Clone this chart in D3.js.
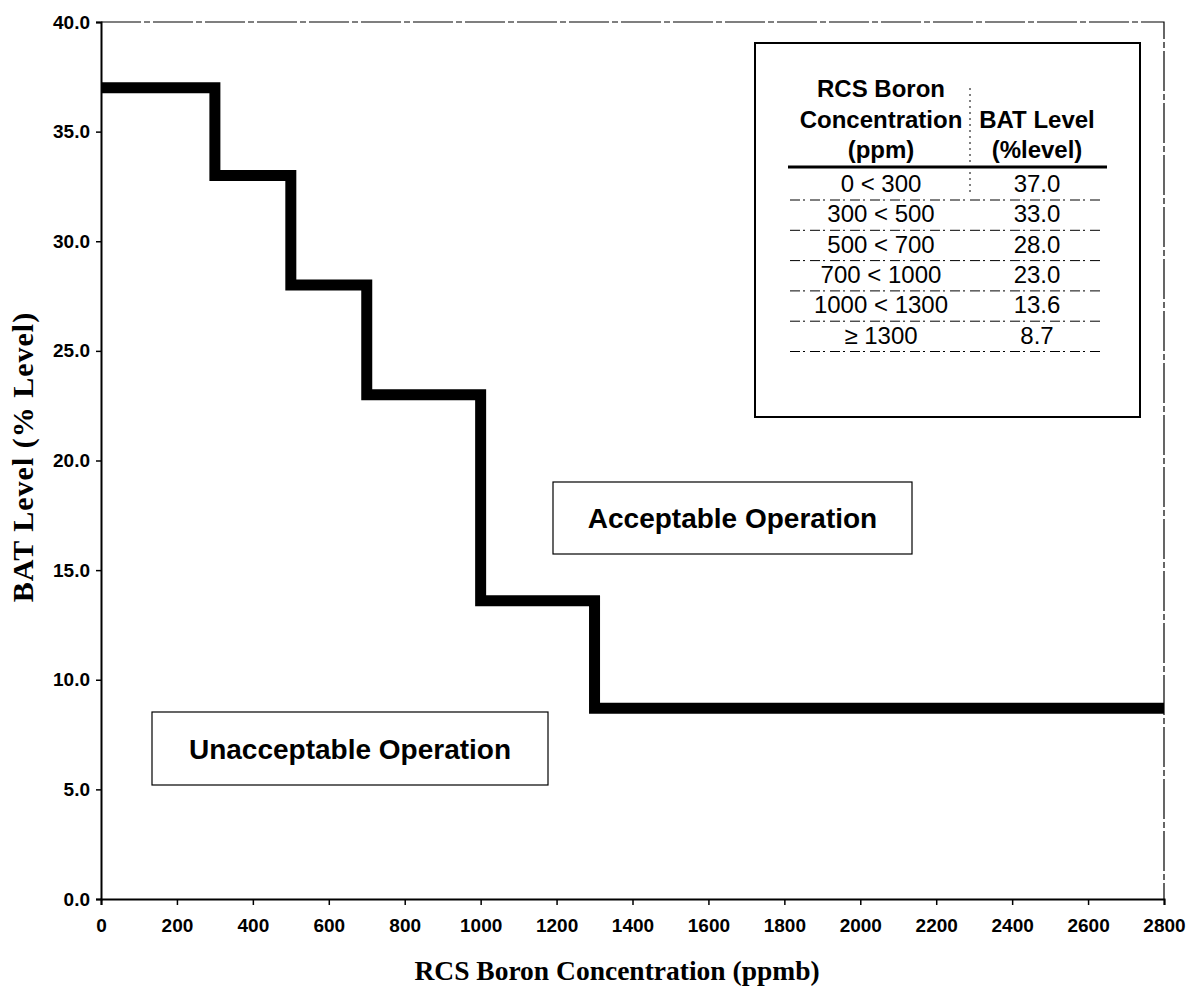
<!DOCTYPE html>
<meta charset="utf-8">
<style>
    body { margin: 0; background: #fff; }
    text { fill: #000; }
    .title { font-family: "Liberation Serif", "Times New Roman", serif; font-weight: bold; }
    .tbl { font-family: "Liberation Sans", Arial, sans-serif; font-size: 24px; }
    .lbl { font-family: "Liberation Sans", Arial, sans-serif; font-weight: bold; font-size: 28px; }
</style>
<svg width="1190" height="993"></svg>
<script src="https://d3js.org/d3.v7.min.js"></script>
<script>
    // step boundaries (ppm) and BAT levels
    var boron = [0, 300, 500, 700, 1000, 1300, 2800];
    var level = [37.0, 33.0, 28.0, 23.0, 13.6, 8.7];
    var rangeLabels = ["0 < 300", "300 < 500", "500 < 700", "700 < 1000", "1000 < 1300", "\u2265 1300"];
    var levelLabels = ["37.0", "33.0", "28.0", "23.0", "13.6", "8.7"];
    var xTicks = d3.range(0, 2801, 200);
    var yTicks = d3.range(0, 40.1, 5);

    var svg = d3.select("svg");
    var x0 = 101, x1 = 1164, y0 = 899, y1 = 22;

    var x = d3.scaleLinear().domain([0, 2800]).range([x0, x1]);
    var y = d3.scaleLinear().domain([0, 40]).range([y0, y1]);

    // plot frame (top/right)
    svg.append("path")
        .attr("d", "M" + x0 + "," + y1 + "H" + x1 + "V" + y0)
        .attr("fill", "none").attr("stroke", "#000").attr("stroke-width", 1.2)
        .attr("stroke-dasharray", "40,3,6,3");

    var xAxis = svg.append("g")
        .attr("transform", "translate(0," + y0 + ")")
        .call(d3.axisBottom(x).tickValues(xTicks).tickSize(6).tickPadding(14).tickFormat(d3.format("d")));
    var yAxis = svg.append("g")
        .attr("transform", "translate(" + x0 + ",0)")
        .call(d3.axisLeft(y).tickValues(yTicks).tickSize(5).tickPadding(6).tickFormat(d3.format(".1f")));
    [xAxis, yAxis].forEach(function(a) {
        a.attr("font-family", "Liberation Sans, Arial, sans-serif").attr("font-size", 19).attr("font-weight", "bold");
        a.select(".domain").attr("stroke-width", 2);
        a.selectAll(".tick line").attr("stroke-width", 1.5);
    });

    // step line
    var pts = level.map(function(v, i) { return [boron[i], v]; });
    pts.push([boron[boron.length - 1], level[level.length - 1]]);
    svg.append("path")
        .datum(pts)
        .attr("fill", "none")
        .attr("stroke", "#000")
        .attr("stroke-width", 11)
        .attr("d", d3.line()
            .x(function(d) { return x(d[0]); })
            .y(function(d) { return y(d[1]); })
            .curve(d3.curveStepAfter));

    // axis titles
    svg.append("text").attr("class", "title").attr("font-size", 27.5)
        .attr("x", 617).attr("y", 980).attr("text-anchor", "middle")
        .text("RCS Boron Concentration (ppmb)");
    svg.append("text").attr("class", "title").attr("font-size", 30).attr("letter-spacing", 1)
        .attr("transform", "translate(33,457) rotate(-90)").attr("text-anchor", "middle")
        .text("BAT Level (% Level)");

    // table box
    var tb = svg.append("g");
    tb.append("rect").attr("x", 755).attr("y", 43).attr("width", 385).attr("height", 374)
        .attr("fill", "#fff").attr("stroke", "#000").attr("stroke-width", 2);
    var c1 = 881, c2 = 1037;
    tb.selectAll(".h1").data(["RCS Boron", "Concentration", "(ppm)"]).enter().append("text")
        .attr("class", "tbl").attr("font-weight", "bold").attr("text-anchor", "middle")
        .attr("x", c1).attr("y", function(d, i) { return 97 + i * 30.5; }).text(function(d) { return d; });
    tb.selectAll(".h2").data(["BAT Level", "(%level)"]).enter().append("text")
        .attr("class", "tbl").attr("font-weight", "bold").attr("text-anchor", "middle")
        .attr("x", c2).attr("y", function(d, i) { return 127.5 + i * 30.5; }).text(function(d) { return d; });
    tb.append("line").attr("x1", 788).attr("x2", 1107).attr("y1", 167).attr("y2", 167)
        .attr("stroke", "#000").attr("stroke-width", 3);
    tb.append("line").attr("x1", 970).attr("x2", 970).attr("y1", 88).attr("y2", 195)
        .attr("stroke", "#000").attr("stroke-width", 1).attr("stroke-dasharray", "2,4");
    rangeLabels.forEach(function(r, i) {
        var by = 192 + i * 30.3;
        tb.append("text").attr("class", "tbl").attr("text-anchor", "middle")
            .attr("x", c1).attr("y", by).text(r);
        tb.append("text").attr("class", "tbl").attr("text-anchor", "middle")
            .attr("x", c2).attr("y", by).text(levelLabels[i]);
        tb.append("line").attr("x1", 790).attr("x2", 1100).attr("y1", by + 8).attr("y2", by + 8)
            .attr("stroke", "#000").attr("stroke-width", 1).attr("stroke-dasharray", "10,3,2,5");
    });

    // region labels
    function label(bx, by, w, h, txt) {
        svg.append("rect").attr("x", bx).attr("y", by).attr("width", w).attr("height", h)
            .attr("fill", "#fff").attr("stroke", "#000").attr("stroke-width", 1.2);
        svg.append("text").attr("class", "lbl").attr("text-anchor", "middle")
            .attr("x", bx + w / 2).attr("y", by + h / 2 + 10).text(txt);
    }
    label(553, 482, 359, 72, "Acceptable Operation");
    label(152, 712, 396, 73, "Unacceptable Operation");
</script>
